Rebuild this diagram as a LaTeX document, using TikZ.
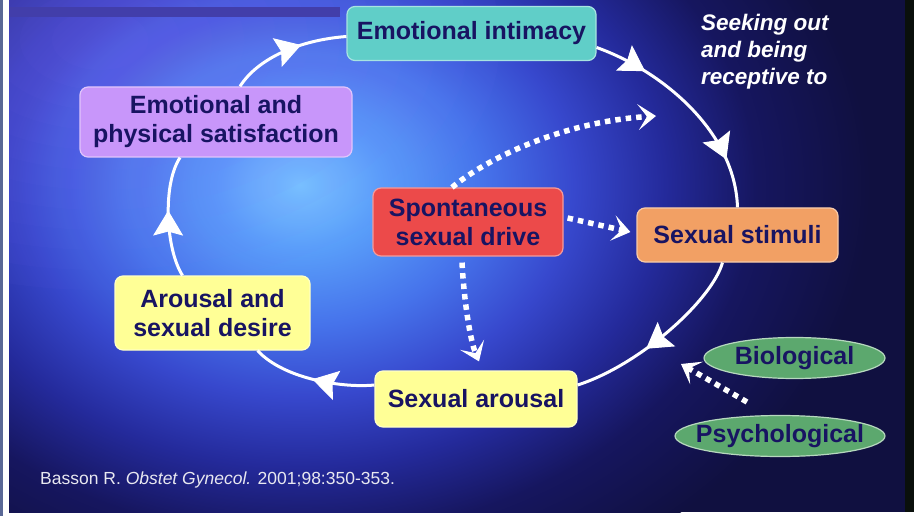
\documentclass[tikz,border=0pt]{standalone}
\usepackage{fontspec}
\setmainfont{Liberation Sans}
\usetikzlibrary{arrows.meta,decorations.markings,shapes.geometric}

\definecolor{navy}{RGB}{24,20,98}
\definecolor{tealbox}{RGB}{96,206,200}
\definecolor{lilac}{RGB}{200,150,250}
\definecolor{redbox}{RGB}{236,74,74}
\definecolor{peach}{RGB}{242,160,100}
\definecolor{paleyellow}{RGB}{255,255,150}
\definecolor{leaf}{RGB}{92,168,110}
\definecolor{barblue}{RGB}{66,62,170}
\definecolor{glowA}{RGB}{120,200,255}
\definecolor{glowB}{RGB}{90,160,250}
\definecolor{glowC}{RGB}{70,115,235}
\definecolor{glowD}{RGB}{55,72,205}
\definecolor{glowE}{RGB}{36,42,155}
\definecolor{glowF}{RGB}{22,22,95}
\definecolor{glowG}{RGB}{16,16,64}
\definecolor{slate}{RGB}{90,104,150}
\definecolor{edgedark}{RGB}{10,16,12}
\definecolor{haze}{RGB}{140,120,255}
\definecolor{citegrey}{RGB}{232,232,240}

% soft blue glow behind the diagram (25bp is the rim of the shaded path)
\pgfdeclareradialshading{bgglow}{\pgfpoint{0bp}{0bp}}{%
  color(0bp)=(glowA); color(3.5bp)=(glowB); color(8bp)=(glowC);
  color(12bp)=(glowD); color(16bp)=(glowE); color(20bp)=(glowF);
  color(25bp)=(glowG); color(50bp)=(glowG)}

\newcommand\boxfont{\fontsize{25}{29}\selectfont\bfseries}

\begin{document}
\begin{tikzpicture}[x=1pt,y=-1pt,
  stage/.style={fill=#1, draw=#1!55!white, line width=1.2pt,
    rounded corners=8pt, text=navy, font=\boxfont, align=center,
    inner sep=0pt},
  factor/.style={ellipse, fill=leaf, draw=leaf!45!white, line width=1.2pt,
    text=navy, font=\boxfont, inner xsep=-12pt, inner ysep=0pt,
    minimum height=41pt},
  cyc/.style={draw=white, line width=3pt},
  bighead/.tip={Stealth[length=25pt,width=30pt,inset=4pt,line width=1pt]},
  headat/.style={postaction=decorate,
    decoration={markings, mark=at position #1 with {\arrow{bighead}}}},
  dotarrow/.style={draw=white, line width=5.5pt, dash pattern=on 5.5pt off 5pt,
    -{Stealth[length=18pt,width=26pt,inset=9pt,line width=1pt]}}]

\useasboundingbox (0,0) rectangle (914,516);

% frame and background
\fill[white] (0,0) rectangle (914,516);
\fill[slate] (0,0) rectangle (3,516);
\begin{scope}
  \clip (9,0) rectangle (905,512);
  \fill[glowG] (9,0) rectangle (905,512);
  \shade[shading=bgglow] (300,185) ellipse [x radius=570, y radius=440];
  % lavender tint in the upper left corner
  \foreach \r in {30,50,...,250}
    \fill[haze, fill opacity=0.035] (100,40) ellipse [x radius=\r*1.6, y radius=\r];
\end{scope}
\fill[edgedark] (905,0) rectangle (914,512);
\fill[barblue] (9,7) rectangle (340,17);

% stages of the cycle
\node[stage=tealbox, minimum width=249pt, minimum height=54pt] (intim) at (471.5,33.5) {Emotional intimacy};
\node[stage=lilac, minimum width=272pt, minimum height=70pt] (satis) at (216,122) {Emotional and\\physical satisfaction};
\node[stage=redbox, minimum width=190pt, minimum height=68pt] (drive) at (468,222) {Spontaneous\\sexual drive};
\node[stage=peach, minimum width=201pt, minimum height=54pt] (stim) at (737.5,235) {Sexual stimuli};
\node[stage=paleyellow, minimum width=195pt, minimum height=74pt] (desire) at (212.5,313) {Arousal and\\sexual desire};
\node[stage=paleyellow, minimum width=202pt, minimum height=56pt] (arous) at (476,399) {Sexual arousal};
\node[factor, minimum width=181pt] (bio) at (794.5,358) {Biological};
\node[factor, minimum width=210pt] (psy) at (780,436) {Psychological};

% free ends of the factor arrow
\coordinate (factors) at (747,402);
\coordinate (entry) at (681,364);

% the main cycle
\draw[cyc, headat=0.62] ([xshift=24pt]satis.north) .. controls (258,58) and (300,40) .. ([yshift=-3pt]intim.west);
\draw[cyc, postaction=decorate, decoration={markings,
    mark=at position 0.24 with {\arrow{bighead}},
    mark=at position 0.78 with {\arrow{bighead}}}]
  ([yshift=-14pt]intim.east) .. controls (660,70) and (735,130) .. (stim.north);
\draw[cyc, headat=0.6] ([xshift=-15pt]stim.south) .. controls (712,300) and (640,365) .. ([yshift=14pt]arous.east);
\draw[cyc, headat=0.5] ([yshift=14pt]arous.west) .. controls (345,388) and (285,380) .. ([xshift=45pt]desire.south);
\draw[cyc, headat=0.55] ([xshift=-30pt]desire.north) .. controls (166,250) and (162,185) .. ([xshift=-36pt]satis.south);

% spontaneous drive feeding into the cycle
\draw[dotarrow] ([xshift=-16pt]drive.north) .. controls (485,160) and (560,122) .. (656,116);
\draw[dotarrow] ([xshift=4pt,yshift=4pt]drive.east) -- ([xshift=-6pt,yshift=3pt]stim.west);
\draw[dotarrow] ([xshift=-6pt,yshift=-6pt]drive.south) .. controls (464,300) and (470,340) .. ([xshift=3pt,yshift=9pt]arous.north);
\draw[dotarrow] (factors) -- (entry);

% captions
\node[anchor=north west, text=white, align=left, inner sep=0pt,
  font=\fontsize{22.5}{27}\selectfont\bfseries\itshape] (seek) at (701,13.5)
  {Seeking out\\and being\\receptive to};
\node[anchor=base west, text=citegrey, inner sep=0pt,
  font=\fontsize{17.5}{20}\selectfont] (cite) at (40,484)
  {Basson R. \textit{Obstet Gynecol.} 2001;98:350-353.};
\end{tikzpicture}
\end{document}
